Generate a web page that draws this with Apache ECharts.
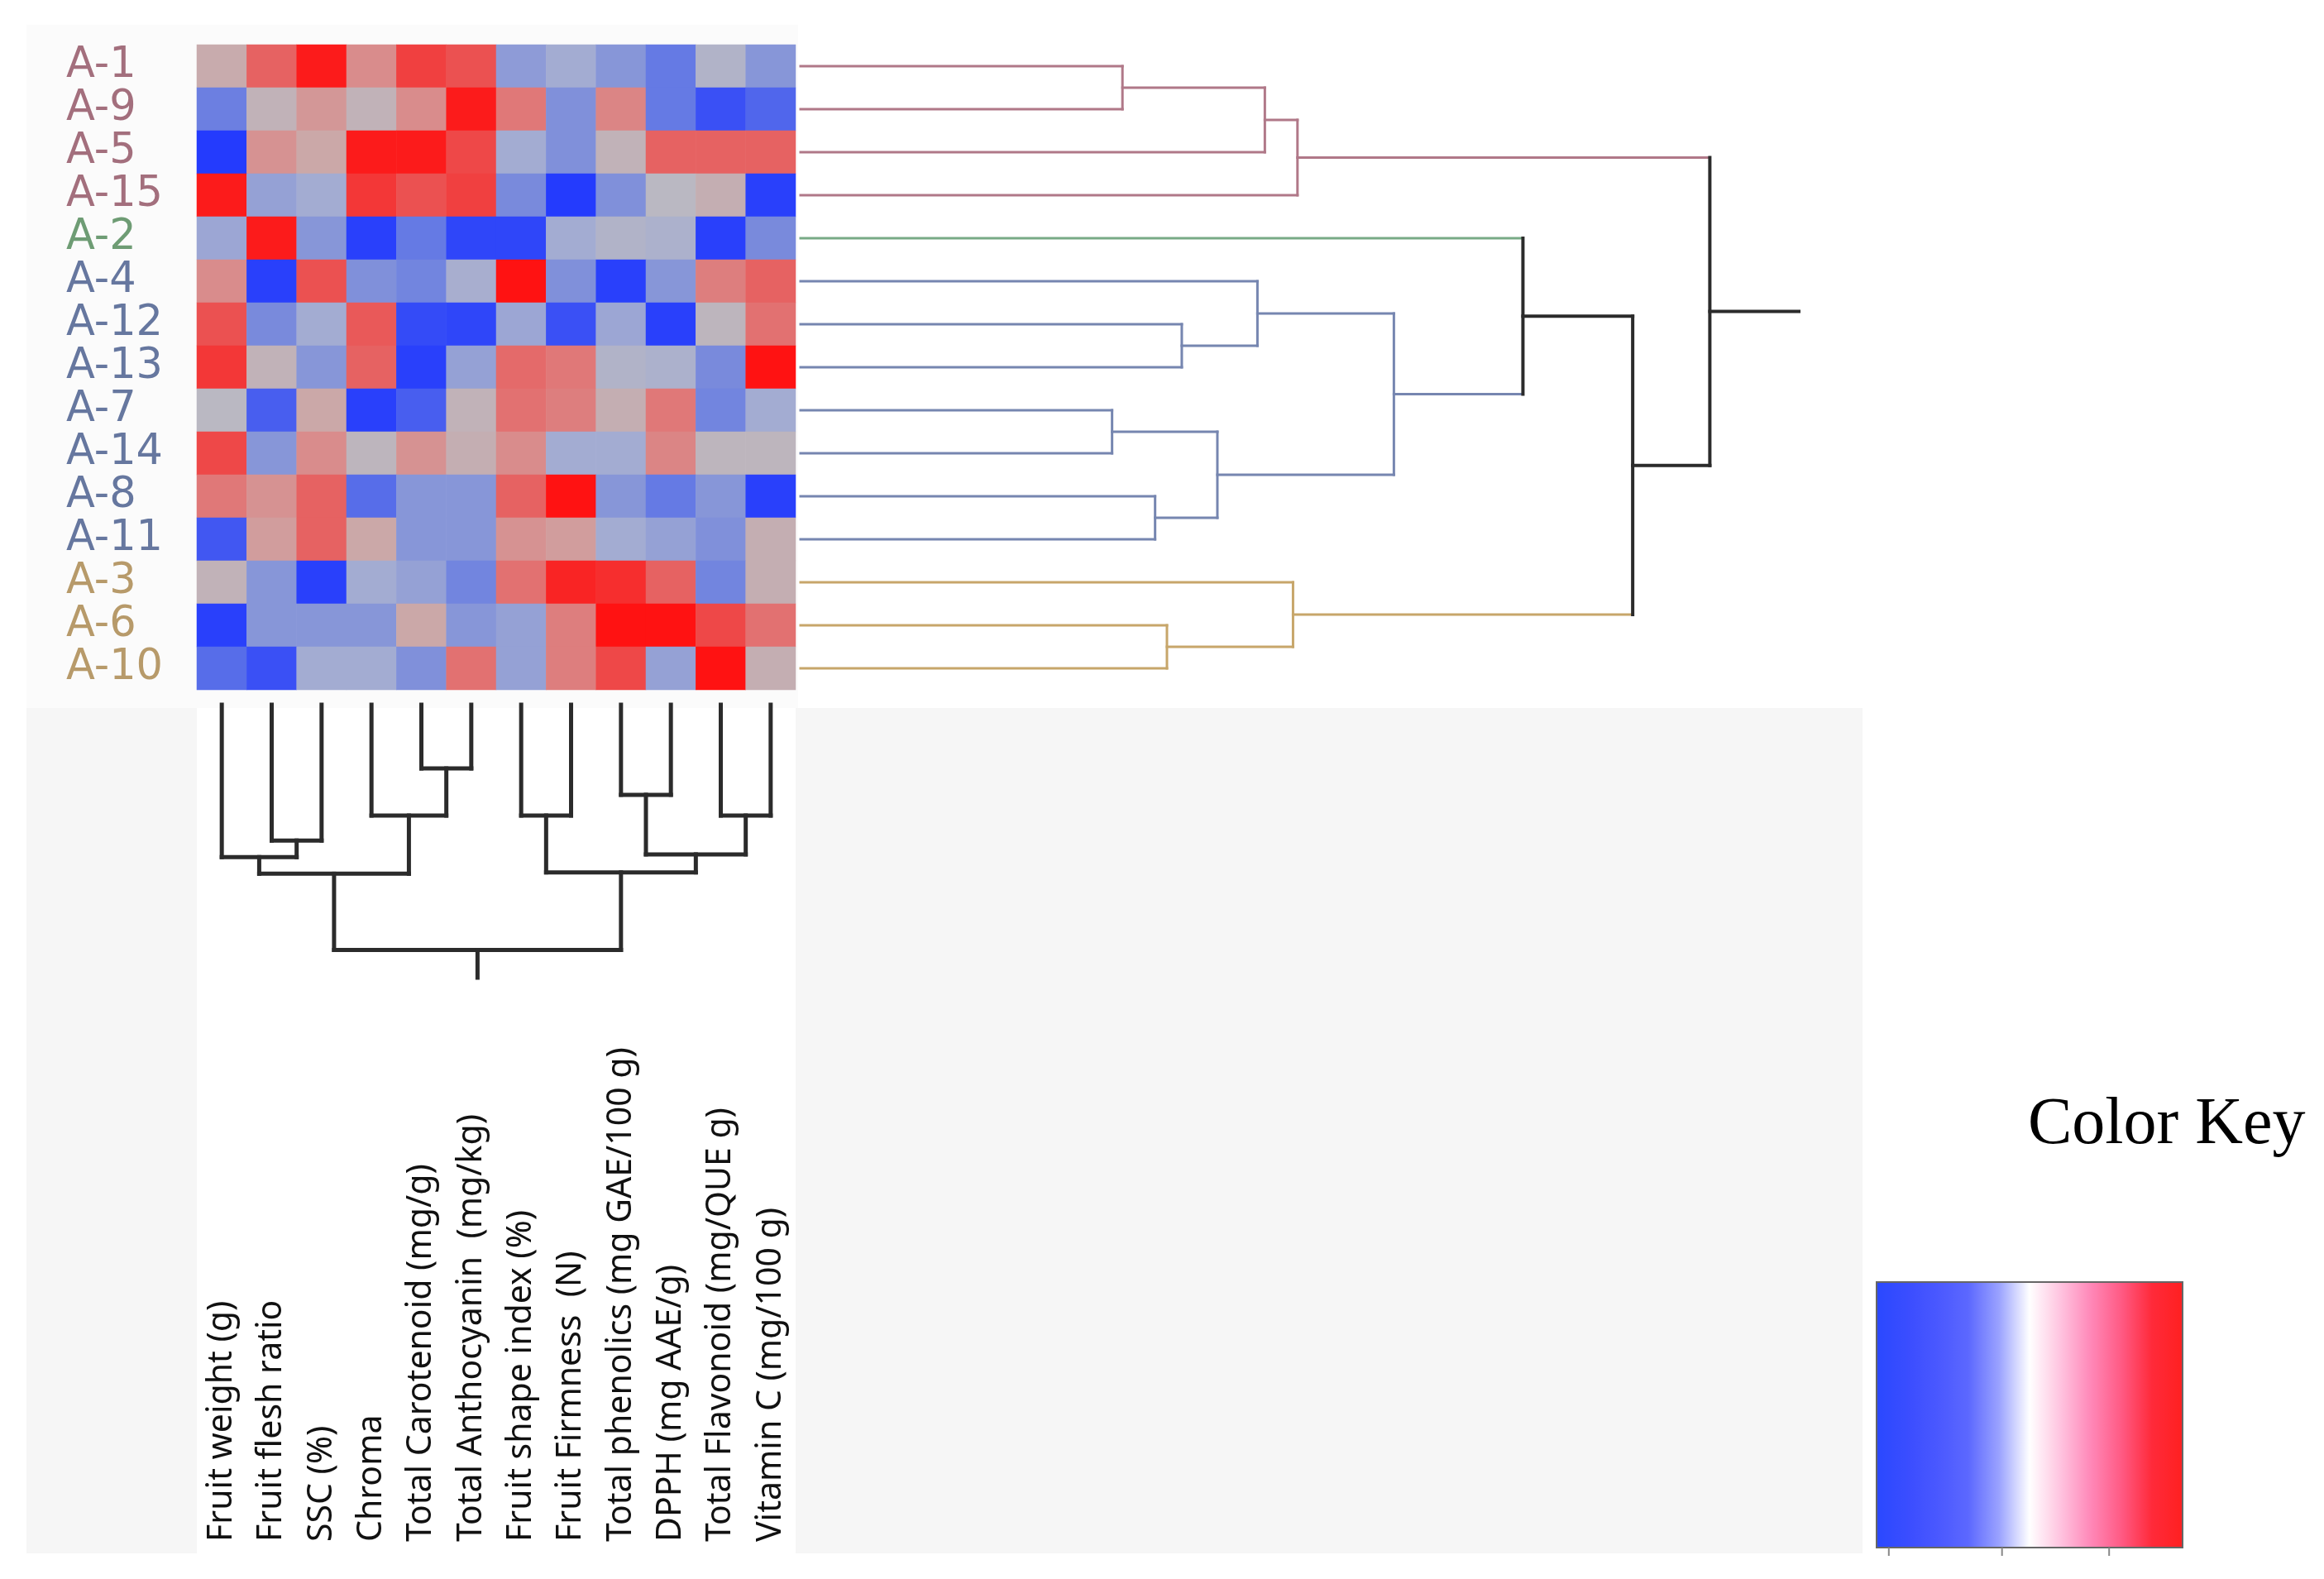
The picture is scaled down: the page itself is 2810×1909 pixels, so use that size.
<!DOCTYPE html>
<html><head><meta charset="utf-8">
<script src="https://cdn.jsdelivr.net/npm/echarts@6/dist/echarts.min.js"></script>
<style>html,body{margin:0;padding:0;background:#fff}#c{width:2810px;height:1909px}</style>
</head><body><div id="c"></div>
<script>
// ---------- DATA ----------
const rowLabels = ['A-1','A-9','A-5','A-15','A-2','A-4','A-12','A-13','A-7','A-14','A-8','A-11','A-3','A-6','A-10'];
const rowGroups = [0,0,0,0,1,2,2,2,2,2,2,2,3,3,3]; // 0 pink,1 green,2 blue,3 tan
const colLabels = ['Fruit weight (g)','Fruit flesh ratio','SSC (%)','Chroma','Total Carotenoid (mg/g)',
  'Total Anthocyanin  (mg/kg)','Fruit shape index (%)','Fruit Firmness  (N)','Total phenolics (mg GAE/100 g)',
  'DPPH (mg AAE/g)','Total Flavonoid (mg/QUE g)','Vitamin C (mg/100 g)'];
// standardized values, one row per sample (rowLabels order), one column per trait (colLabels order)
const valA1  = [ 0.4, 1.6, 2.4, 1.0, 2.0, 1.8,-0.8,-0.5,-0.9,-1.4,-0.2,-0.9];
const valA9  = [-1.3, 0.2, 0.8, 0.2, 1.0, 2.4, 1.3,-1.0, 1.1,-1.4,-2.0,-1.7];
const valA5  = [-2.4, 0.9, 0.5, 2.4, 2.4, 1.9,-0.5,-1.0, 0.2, 1.6, 1.6, 1.6];
const valA15 = [ 2.4,-0.7,-0.5, 2.1, 1.8, 2.0,-1.1,-2.4,-1.0, 0.0, 0.3,-2.3];
const valA2  = [-0.6, 2.4,-0.9,-2.3,-1.4,-2.2,-2.2,-0.5,-0.2,-0.3,-2.3,-1.1];
const valA4  = [ 1.0,-2.3, 1.8,-1.0,-1.2,-0.4, 2.5,-1.0,-2.3,-0.9, 1.2, 1.6];
const valA12 = [ 1.8,-1.1,-0.5, 1.7,-2.1,-2.2,-0.6,-2.0,-0.6,-2.3, 0.1, 1.4];
const valA13 = [ 2.1, 0.2,-0.9, 1.6,-2.3,-0.7, 1.5, 1.3,-0.2,-0.3,-1.1, 2.5];
const valA7  = [ 0.0,-1.8, 0.5,-2.3,-1.8, 0.2, 1.4, 1.2, 0.3, 1.3,-1.2,-0.5];
const valA14 = [ 1.9,-0.9, 1.0, 0.1, 0.9, 0.3, 1.0,-0.5,-0.5, 1.1, 0.1, 0.1];
const valA8  = [ 1.3, 0.9, 1.6,-1.6,-0.9,-0.9, 1.6, 2.5,-0.9,-1.4,-0.9,-2.3];
const valA11 = [-1.9, 0.7, 1.6, 0.5,-0.9,-0.9, 0.9, 0.7,-0.5,-0.7,-1.0, 0.3];
const valA3  = [ 0.2,-0.9,-2.3,-0.5,-0.7,-1.2, 1.4, 2.3, 2.2, 1.6,-1.2, 0.3];
const valA6  = [-2.3,-0.9,-0.9,-0.9, 0.5,-0.9,-0.7, 1.2, 2.5, 2.5, 1.9, 1.4];
const valA10 = [-1.6,-2.0,-0.5,-0.5,-1.0, 1.4,-0.7, 1.2, 1.9,-0.7, 2.5, 0.3];
const rowValues = [valA1,valA9,valA5,valA15,valA2,valA4,valA12,valA13,valA7,valA14,valA8,valA11,valA3,valA6,valA10];
// row dendrogram merges: [childA, childB, height, colorIndex]; leaves 0..14, new nodes 15..
const rowMerges = [
  [0,1,2.17,0],[15,2,3.13,0],[16,3,3.35,0],
  [6,7,2.57,2],[5,18,3.08,2],[8,9,2.10,2],[10,11,2.39,2],[20,21,2.81,2],[19,22,4.00,2],
  [4,23,4.87,4],[13,14,2.47,3],[12,25,3.32,3],[24,26,5.61,4],[17,27,6.13,4]
];
const rowRootEnd = 6.73;
// column dendrogram merges: leaves 0..11, new nodes 12..
const colMerges = [
  [4,5,2.30,4],[3,12,4.00,4],[1,2,4.90,4],[0,14,5.50,4],[15,13,6.10,4],
  [6,7,4.00,4],[8,9,3.25,4],[10,11,4.00,4],[18,19,5.40,4],[17,20,6.05,4],[16,21,8.85,4]
];
const colRootEnd = 9.85;
const keyTicks = [0.04, 0.41, 0.76]; // relative tick positions under the colour key

// ---------- STYLE ----------
const labelColors = ['#a36f7d','#6e9c74','#66779f','#b79a6a'];
const branchColors = ['#b07888','#78aa86','#7686b0','#c7a66a','#2b2b2b'];

function buildDendro(n, merges, leafColorIdx, rootEnd){
  const pos=[],hgt=[],col=[],segs=[];
  for(let i=0;i<n;i++){pos.push(i);hgt.push(0);col.push(leafColorIdx[i]);}
  merges.forEach(m=>{
    const [a,b,h,c]=m;
    segs.push([pos[a],hgt[a],pos[a],h,col[a]]);
    segs.push([pos[b],hgt[b],pos[b],h,col[b]]);
    segs.push([pos[a],h,pos[b],h,c]);
    pos.push((pos[a]+pos[b])/2);hgt.push(h);col.push(c);
  });
  const r=pos.length-1;
  segs.push([pos[r],hgt[r],pos[r],rootEnd,col[r]]);
  return segs;
}
const rowSegs = buildDendro(rowLabels.length,rowMerges,rowGroups,rowRootEnd);
const colSegs = buildDendro(colLabels.length,colMerges,colLabels.map(()=>4),colRootEnd);

const heatData=[];
rowValues.forEach((r,ri)=>r.forEach((v,ci)=>heatData.push([ci,ri,v])));

const hide={show:false};
const chart=echarts.init(document.getElementById('c'),null,{renderer:'canvas'});
const HX=238, HW=724, HY=54, HH=780;
const KX=2269, KY=1550, KW=370, KH=321;
chart.setOption({
  animation:false,
  backgroundColor:'#ffffff',
  graphic:[
    {type:'rect',z:-10,shape:{x:32,y:30,width:933,height:826},style:{fill:'#fbfbfb'}},
    {type:'rect',z:-10,shape:{x:32,y:856,width:2220,height:1022},style:{fill:'#f6f6f6'}},
    {type:'rect',z:-9,shape:{x:HX,y:856,width:HW,height:1022},style:{fill:'#ffffff'}},
    {type:'rect',z:-9,shape:{x:965,y:30,width:1287,height:826},style:{fill:'#ffffff'}},
    {type:'rect',z:20,shape:{x:KX,y:KY,width:KW,height:KH},style:{fill:'none',stroke:'#666',lineWidth:2}},
    ...keyTicks.map(t=>({type:'line',z:20,shape:{x1:KX+t*KW,y1:KY+KH,x2:KX+t*KW,y2:KY+KH+10},style:{stroke:'#888',lineWidth:2}}))
  ],
  title:{text:'Color Key',left:2452,top:1321,padding:0,
    textStyle:{fontFamily:'Liberation Serif',fontSize:80,fontWeight:'normal',color:'#000'}},
  grid:[
    {left:HX,top:HY,width:HW,height:HH,outerBoundsMode:'none'},
    {left:968,top:HY,width:2175-968,height:HH,outerBoundsMode:'none'},
    {left:HX,top:852,width:HW,height:330,outerBoundsMode:'none'},
    {left:HX,top:1866,width:HW,height:2,outerBoundsMode:'none'}
  ],
  xAxis:[
    {gridIndex:0,type:'category',data:colLabels,axisLine:hide,axisTick:hide,axisLabel:hide,splitLine:hide},
    {gridIndex:1,type:'value',min:0,max:rowRootEnd,axisLine:hide,axisTick:hide,axisLabel:hide,splitLine:hide},
    {gridIndex:2,type:'value',min:-0.5,max:colLabels.length-0.5,axisLine:hide,axisTick:hide,axisLabel:hide,splitLine:hide},
    {gridIndex:3,type:'category',data:colLabels,position:'top',axisLine:hide,axisTick:hide,splitLine:hide,
      axisLabel:{show:true,interval:0,rotate:90,margin:2,fontFamily:'Noto Sans',fontSize:41,color:'#111'}}
  ],
  yAxis:[
    {gridIndex:0,type:'category',data:rowLabels,inverse:true,axisLine:hide,axisTick:hide,splitLine:hide,
      axisLabel:{show:true,interval:0,align:'left',margin:HX-80,fontFamily:'DejaVu Sans',fontSize:51,
        color:(v,i)=>labelColors[rowGroups[i]]}},
    {gridIndex:1,type:'value',min:-0.5,max:rowLabels.length-0.5,inverse:true,axisLine:hide,axisTick:hide,axisLabel:hide,splitLine:hide},
    {gridIndex:2,type:'value',min:0,max:colRootEnd,inverse:true,axisLine:hide,axisTick:hide,axisLabel:hide,splitLine:hide},
    {gridIndex:3,type:'value',axisLine:hide,axisTick:hide,axisLabel:hide,splitLine:hide}
  ],
  visualMap:{
    type:'continuous',seriesIndex:0,dimension:2,min:-2.5,max:2.5,calculable:false,orient:'horizontal',
    left:KX,top:KY,itemWidth:KH,itemHeight:KW,padding:0,text:null,showLabel:false,
    inRange:{color:['#1e36ff','#3a50f5','#5e74e6','#8090da','#a3acd2','#bab8c2','#cba8a8','#d98c8c','#e46a6a','#f04040','#ff1212']},
    controller:{inRange:{color:['#2a48ff','#3a4dff','#4a58ff','#5c68ff','#9aa2ff','#ffffff','#ffc4e0','#ff88b8','#ff5a84','#ff2a3a','#ff2020']}}
  },
  series:[
    {type:'heatmap',xAxisIndex:0,yAxisIndex:0,data:heatData,itemStyle:{borderWidth:0},emphasis:{disabled:true}},
    {type:'custom',xAxisIndex:1,yAxisIndex:1,data:rowSegs,silent:true,
      renderItem:(p,api)=>{
        const a=api.coord([api.value(1),api.value(0)]), b=api.coord([api.value(3),api.value(2)]);
        const ci=api.value(4);
        return {type:'line',shape:{x1:a[0],y1:a[1],x2:b[0],y2:b[1]},
          style:{stroke:branchColors[ci],lineWidth:ci===4?4:3,lineCap:'square'}};
      }},
    {type:'custom',xAxisIndex:2,yAxisIndex:2,data:colSegs,silent:true,
      renderItem:(p,api)=>{
        const a=api.coord([api.value(0),api.value(1)]), b=api.coord([api.value(2),api.value(3)]);
        return {type:'line',shape:{x1:a[0],y1:a[1],x2:b[0],y2:b[1]},
          style:{stroke:'#2b2b2b',lineWidth:5,lineCap:'square'}};
      }}
  ]
});
</script></body></html>
